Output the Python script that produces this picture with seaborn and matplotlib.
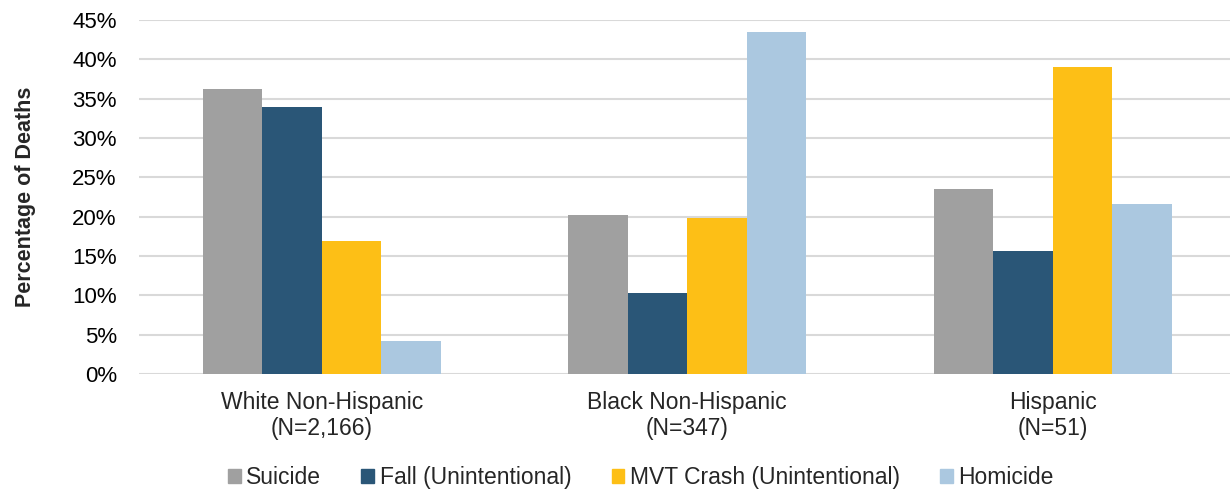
import pandas as pd
import numpy as np
import matplotlib.pyplot as plt
import seaborn as sns
from matplotlib.ticker import PercentFormatter

# Data
groups = ["White Non-Hispanic\n(N=2,166)", "Black Non-Hispanic\n(N=347)", "Hispanic\n(N=51)"]
causes = ["Suicide", "Fall (Unintentional)", "MVT Crash (Unintentional)", "Homicide"]
suicide = [36.3, 20.2, 23.5]
fall = [33.9, 10.3, 15.6]
mvt = [16.9, 19.8, 39.1]
homicide = [4.2, 43.5, 21.6]
colors = ["#A0A0A0", "#2A5677", "#FDBF16", "#ABC8E0"]

rows = []
for cause, vals in zip(causes, [suicide, fall, mvt, homicide]):
    for g, v in zip(groups, vals):
        rows.append({"group": g, "cause": cause, "pct": v})
df = pd.DataFrame(rows)

sns.set_style("white")
plt.rcParams['font.family'] = ['Liberation Sans', 'DejaVu Sans']

fig = plt.figure(figsize=(12.3, 4.91), dpi=100)
ax = fig.add_axes([0.113, 0.238, 0.887, 0.721])

sns.barplot(data=df, x="group", y="pct", hue="cause", hue_order=causes,
            palette=colors, width=0.65, saturation=1, linewidth=0,
            ax=ax, zorder=3)

ax.set_ylim(0, 45)
ax.set_yticks(np.arange(0, 46, 5))
ax.yaxis.set_major_formatter(PercentFormatter(decimals=0))
ax.set_xlim(-0.5, 2.485)
ax.grid(axis="y", color="#D9D9D9", linewidth=1.5, zorder=0)
ax.set_axisbelow(True)
for s in ax.spines.values():
    s.set_visible(False)

ax.tick_params(axis="y", labelsize=16, length=0, pad=16, colors="#000000")
ax.tick_params(axis="x", labelsize=16.5, length=0, pad=12)
for t in ax.get_xticklabels():
    t.set_linespacing(1.15)
ax.set_xlabel("")
ax.set_ylabel("Percentage of Deaths", fontsize=15.5, fontweight="bold", labelpad=26)

ax.legend_.remove()
handles = [plt.Rectangle((0, 0), 1, 1, color=c) for c in colors]
fig.legend(handles, causes, loc="center", bbox_to_anchor=(0.521, 0.028), ncol=4,
           frameon=False, fontsize=16.5, handlelength=0.55, handleheight=0.55,
           handletextpad=0.25, columnspacing=1.75)

fig.savefig("out.png", dpi=100)
